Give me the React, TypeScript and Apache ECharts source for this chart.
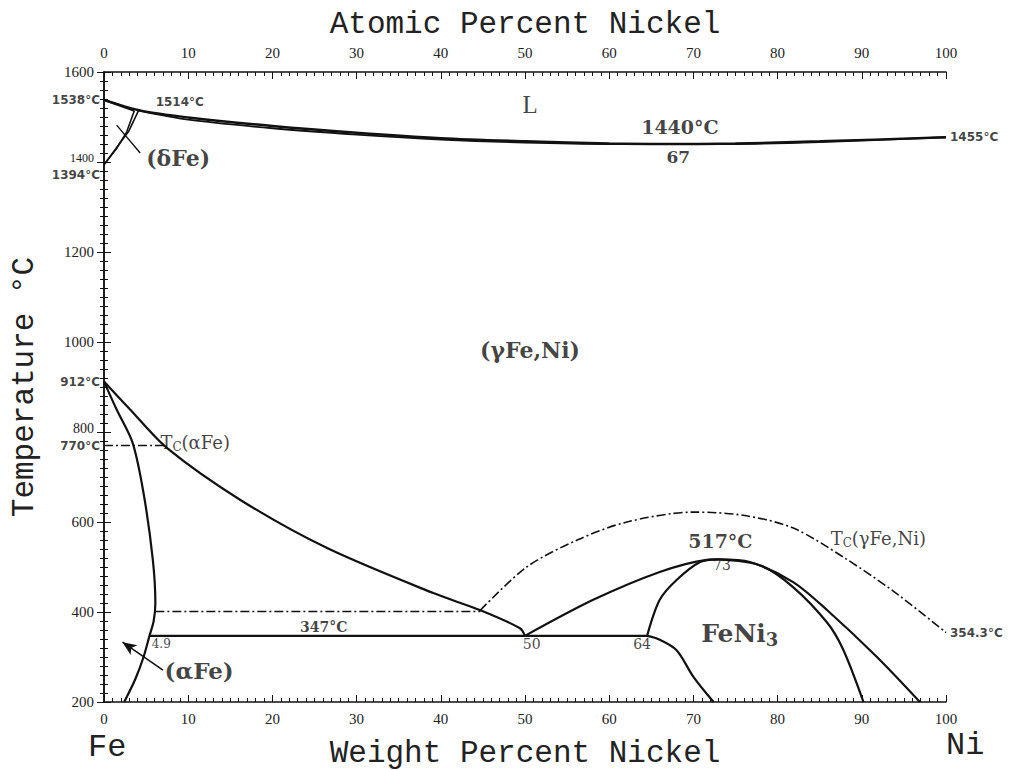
import React, { useEffect, useRef } from "react";
import * as echarts from "echarts";

// ---- data (wt% Ni, °C) ----
const liquidus = [[0,1538],[4.4,1514],[10,1499],[20,1480],[30,1465],[40,1453],[50,1446],[60,1441],[67,1440],[75,1441],[85,1446],[100,1455]];
const solidus = [[4.1,1514],[10,1494],[20,1475],[30,1461],[40,1450],[50,1443],[60,1440],[67,1440],[75,1440],[85,1444],[100,1455]];
const deltaSolidus = [[0,1538],[3.6,1514]];
const deltaGammaA = [[0,1394],[1.5,1430],[2.7,1467],[3.6,1514]];
const deltaGammaB = [[0,1394],[1.5,1432],[2.9,1467],[4.1,1514]];
const alphaBoundary = [[0,912],[1.5,850],[3.4,776],[4.7,664],[5.8,516],[6.1,420],[5.9,380],[5.4,347],[4.7,300],[3.7,250],[2.4,200]];
const gammaBoundary = [[0,912],[3.1,850],[7.5,764],[16.2,649],[26.5,542],[39.1,442],[44.7,404],[49.4,364],[50,347]];
const eutectoid = [[5.4,347],[64.5,347]];
const tcAlpha = [[0,770],[7.5,770]];
const tcAlphaLow = [[6.1,401],[44.7,401]];
const tcGamma = [[44.7,404],[50.2,500],[56.2,560],[62.1,600],[70,622],[75.9,615],[81.8,587],[87.8,522],[93.7,447],[100,354.3]];
const orderLeft = [[50,347],[58.1,427],[66,489],[71.6,516],[73,517]];
const feNi3Left = [[64.5,347],[66,427],[68,471],[70.8,511],[73,517]];
const feNi3Lower = [[64.5,347],[65.8,340],[68,315],[70,256],[72.4,200]];
const feNi3Right = [[73,517],[77.9,504],[81.8,456],[85.9,376],[87.8,316],[90.2,200]];
const gammaRight = [[73,517],[76.7,511],[81.8,467],[85.9,404],[91.8,300],[96.9,200]];
const deltaLeader = [[1.5,1482],[4.3,1420]];
const alphaArrow = [[7.0,271],[2.2,333]];

const xTickLabels = [0,10,20,30,40,50,60,70,80,90,100];
const yTickLabels = [200,400,600,800,1000,1200,1400,1600];

// annotations: [x, T, text, size, bold, position, font]  font: s = serif, n = small sans
const annotations: [number, number, string, number, boolean, string, string][] = [
  [50.6, 1527, "L", 25, false, "inside", "s"],
  [9.0, 1533, "1514°C", 12, true, "inside", "n"],
  [68.4, 1478, "1440°C", 19, true, "inside", "s"],
  [68.2, 1411, "67", 17, true, "inside", "s"],
  [100, 1455, "1455°C", 12, true, "right", "n"],
  [8.8, 1409, "(δFe)", 22, true, "inside", "s"],
  [50.6, 982, "(γFe,Ni)", 22, true, "inside", "s"],
  [73.2, 558, "517°C", 19, true, "inside", "s"],
  [73.4, 504, "73", 14, false, "inside", "s"],
  [26.1, 367, "347°C", 14, true, "inside", "s"],
  [6.8, 328, "4.9", 12, false, "inside", "s"],
  [50.8, 329, "50", 14, false, "inside", "s"],
  [63.9, 329, "64", 14, false, "inside", "s"],
  [11.3, 271, "(αFe)", 23, true, "inside", "s"],
  [100, 354.3, "354.3°C", 12, true, "right", "n"],
  [0, 1538, "1538°C", 12, true, "left", "n"],
  [0, 1372, "1394°C", 12, true, "left", "n"],
  [0, 912, "912°C", 12, true, "left", "n"],
  [0, 770, "770°C", 12, true, "left", "n"],
];

const SERIF = "'Liberation Serif', 'DejaVu Serif', serif";
const WSERIF = "'DejaVu Serif', 'Liberation Serif', serif";
const MONO = "'Liberation Mono', 'DejaVu Sans Mono', monospace";
const SANS = "'DejaVu Sans', 'Liberation Sans', sans-serif";

export default function App() {
  const ref = useRef<HTMLDivElement>(null);
  useEffect(() => {
    document.body.style.margin = "0";
    const chart = echarts.init(ref.current!, undefined, { renderer: "svg" });
    const line = (data: number[][], dash?: number[] | string, width = 2.2, smooth: number | boolean = 0.3) => ({
      type: "line",
      data,
      showSymbol: false,
      symbol: "none",
      silent: true,
      smooth,
      xAxisIndex: 0,
      yAxisIndex: 0,
      lineStyle: { color: "#111", width, type: dash || "solid" },
    });
    const dashDot = [9, 3, 2, 3];
    const axisCommon = {
      type: "value",
      min: 0,
      max: 100,
      interval: 10,
      axisLine: { lineStyle: { color: "#111", width: 1.5 } },
      axisTick: { inside: true, length: 7, lineStyle: { color: "#111" } },
      minorTick: { show: true, splitNumber: 10, length: 4, lineStyle: { color: "#111" } },
      splitLine: { show: false },
      axisLabel: {
        color: "#222",
        fontFamily: SERIF,
        fontSize: 15,
        formatter: (v: number) => (xTickLabels.includes(v) ? String(v) : ""),
      },
    };
    const yCommon = {
      type: "value",
      min: 200,
      max: 1600,
      interval: 200,
      axisLine: { show: true, lineStyle: { color: "#111", width: 1.5 } },
      axisTick: { show: true, inside: true, length: 7, lineStyle: { color: "#111" } },
      minorTick: { show: true, splitNumber: 10, length: 4, lineStyle: { color: "#111" } },
      splitLine: { show: false },
    };
    const textData: any[] = annotations.map(([x, y, t, size, bold, pos, f]) => ({
      value: [x, y],
      label: {
        show: true,
        position: pos,
        distance: 4,
        formatter: t,
        fontSize: size,
        fontWeight: bold ? "bold" : "normal",
        fontFamily: t === "L" ? SERIF : f === "s" ? WSERIF : SANS,
        color: "#111",
      },
    }));
    const richTc = {
      n: { fontSize: 18, fontFamily: WSERIF, color: "#111" },
      s: { fontSize: 12, fontFamily: WSERIF, color: "#111", padding: [9, 0, 0, 0] },
    };
    textData.push({
      value: [6.7, 776],
      label: { show: true, position: "right", distance: 0, formatter: "{n|T}{s|C}{n|(αFe)}", rich: richTc },
    });
    textData.push({
      value: [86.3, 564],
      label: { show: true, position: "right", distance: 0, formatter: "{n|T}{s|C}{n|(γFe,Ni)}", rich: richTc },
    });
    textData.push({
      value: [75.5, 353],
      label: {
        show: true,
        position: "inside",
        formatter: "{b|FeNi}{c|3}",
        rich: {
          b: { fontSize: 25, fontWeight: "bold", fontFamily: WSERIF, color: "#111" },
          c: { fontSize: 18, fontWeight: "bold", fontFamily: WSERIF, color: "#111", padding: [12, 0, 0, 0] },
        },
      },
    });

    chart.setOption({
      animation: false,
      backgroundColor: "#fff",
      grid: { left: 104, right: 72, top: 72, bottom: 68, containLabel: false, outerBoundsMode: "none" },
      xAxis: [
        {
          ...axisCommon,
          position: "bottom",
          name: "Weight Percent Nickel",
          nameLocation: "middle",
          nameGap: 36,
          nameTextStyle: { fontFamily: MONO, fontSize: 31, color: "#222" },
          axisLabel: { ...axisCommon.axisLabel, margin: 9 },
        },
        {
          ...axisCommon,
          position: "top",
          name: "Atomic Percent Nickel",
          nameLocation: "middle",
          nameGap: 32,
          nameTextStyle: { fontFamily: MONO, fontSize: 31, color: "#222" },
          axisLabel: { ...axisCommon.axisLabel, margin: 12 },
        },
      ],
      yAxis: [
        {
          ...yCommon,
          position: "left",
          name: "Temperature °C",
          nameLocation: "middle",
          nameGap: 64,
          nameRotate: 90,
          nameTextStyle: { fontFamily: MONO, fontSize: 31, color: "#222" },
          axisLabel: {
            color: "#222",
            fontFamily: SERIF,
            fontSize: 15,
            margin: 10,
            formatter: (v: number) =>
              yTickLabels.includes(v)
                ? v === 1400
                  ? "{s|1400}"
                  : v === 800
                  ? "{m|800}"
                  : String(v)
                : "",
            rich: {
              s: { fontSize: 12, fontFamily: SERIF, color: "#222", padding: [0, 0, 8, 0] },
              m: { fontSize: 14, fontFamily: SERIF, color: "#222", padding: [0, 0, 8, 0] },
            },
          },
        },
        { ...yCommon, position: "right", axisLabel: { show: false } },
      ],
      graphic: [
        { type: "text", left: 88, top: 731, style: { text: "Fe", font: `32px ${MONO}`, fill: "#222" } },
        { type: "text", left: 946, top: 729, style: { text: "Ni", font: `32px ${MONO}`, fill: "#222" } },
      ],
      series: [
        line(liquidus, undefined, 2.4),
        line(solidus, undefined, 1.8),
        line(deltaSolidus, undefined, 2.2, false),
        line(deltaGammaA, undefined, 1.6, false),
        line(deltaGammaB, undefined, 1.6, false),
        line(alphaBoundary),
        line(gammaBoundary),
        line(eutectoid, undefined, 2.4, false),
        line(tcAlpha, dashDot, 1.6, false),
        line(tcAlphaLow, dashDot, 1.6, false),
        line(tcGamma, dashDot, 1.6),
        line(orderLeft),
        line(feNi3Left),
        line(feNi3Lower),
        line(feNi3Right),
        line(gammaRight),
        line(deltaLeader, undefined, 1.4, false),
        {
          type: "line",
          data: [],
          silent: true,
          markLine: {
            silent: true,
            symbol: ["none", "arrow"],
            symbolSize: [9, 14],
            label: { show: false },
            lineStyle: { type: "solid", color: "#111", width: 1.5 },
            data: [[{ coord: alphaArrow[0] }, { coord: alphaArrow[1] }]],
          },
        },
        {
          type: "scatter",
          symbolSize: 0,
          silent: true,
          clip: false,
          data: textData,
        },
      ],
    });
    return () => chart.dispose();
  }, []);
  return <div ref={ref} style={{ width: 1018, height: 770 }} />;
}
